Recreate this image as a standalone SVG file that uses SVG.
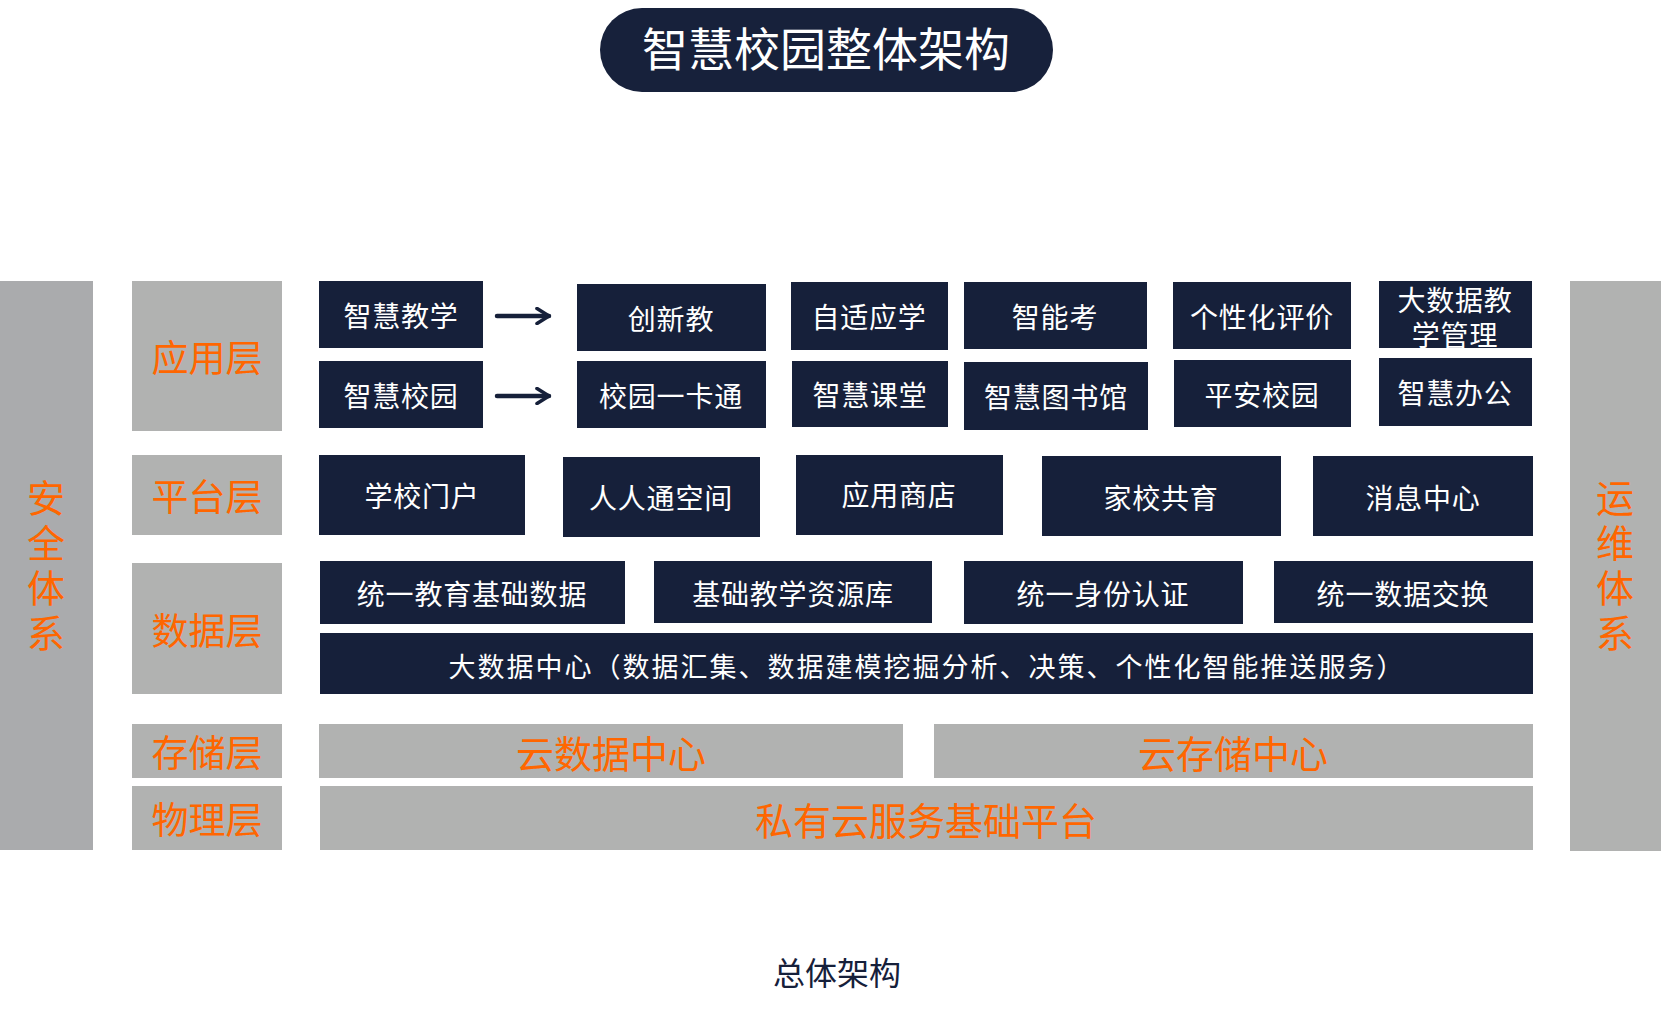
<svg xmlns="http://www.w3.org/2000/svg" width="1663" height="1017" viewBox="0 0 1663 1017">
<defs>
<style>
.nb{fill:#16203A}
.gb{fill:#B1B2B1}
.wt{fill:#FFFFFF;font-family:"Noto Sans CJK SC",sans-serif;font-size:28px;letter-spacing:0.8px;text-anchor:middle;dominant-baseline:central}
.ot{fill:#FF6600;font-family:"Noto Sans CJK SC",sans-serif;font-size:37px;text-anchor:middle;dominant-baseline:central}
.ob{fill:#FF6600;font-family:"Noto Sans CJK SC",sans-serif;font-size:38px;text-anchor:middle;dominant-baseline:central}
.vt{fill:#FF6600;font-family:"Noto Sans CJK SC",sans-serif;font-size:38px;text-anchor:middle;writing-mode:vertical-rl;letter-spacing:7px}
.cn{stroke:#16203A;stroke-width:4.5;fill:none;stroke-linecap:round}
</style>
<marker id="ah" viewBox="0 0 12 12" refX="10" refY="6" markerWidth="4" markerHeight="4" markerUnits="strokeWidth" orient="auto">
<path d="M2,1 L10,6 L2,11" fill="none" stroke="#16203A" stroke-width="2.4" stroke-linecap="round" stroke-linejoin="round"/>
</marker>
</defs>
<rect width="1663" height="1017" fill="#FFFFFF"/>

<g id="title">
<rect x="600" y="8" width="453" height="84" rx="42" fill="#17213B"/>
<text x="826" y="46" fill="#FFFFFF" font-family="'Noto Sans CJK SC',sans-serif" font-size="46" text-anchor="middle" dominant-baseline="central">智慧校园整体架构</text>
</g>

<g id="security">
<rect x="0" y="281" width="93" height="569" fill="#AAABAD"/>
<text class="vt" x="46" y="569">安全体系</text>
</g>
<g id="ops">
<rect x="1570" y="281" width="91" height="570" class="gb"/>
<text class="vt" x="1615" y="569">运维体系</text>
</g>

<g id="layer-app"><rect x="132" y="281" width="150" height="150" class="gb"/><text class="ot" x="207" y="356">应用层</text></g>
<g id="layer-platform"><rect x="132" y="455" width="150" height="80" class="gb"/><text class="ot" x="207" y="495">平台层</text></g>
<g id="layer-data"><rect x="132" y="563" width="150" height="131" class="gb"/><text class="ot" x="207" y="629">数据层</text></g>
<g id="layer-storage"><rect x="132" y="724" width="150" height="54" class="gb"/><text class="ot" x="207" y="751">存储层</text></g>
<g id="layer-physical"><rect x="132" y="786" width="150" height="64" class="gb"/><text class="ot" x="207" y="818">物理层</text></g>

<g id="n-zhjx"><rect x="319" y="281" width="164" height="67" class="nb"/><text class="wt" x="401" y="315">智慧教学</text></g>
<g id="n-zhxy"><rect x="319" y="361" width="164" height="67" class="nb"/><text class="wt" x="401" y="395">智慧校园</text></g>
<g id="n-cxj"><rect x="577" y="284" width="189" height="67" class="nb"/><text class="wt" x="671" y="318">创新教</text></g>
<g id="n-xyykt"><rect x="577" y="361" width="189" height="67" class="nb"/><text class="wt" x="671" y="395">校园一卡通</text></g>
<g id="n-zsyx"><rect x="791" y="282" width="157" height="68" class="nb"/><text class="wt" x="869" y="316">自适应学</text></g>
<g id="n-zhkt"><rect x="792" y="361" width="156" height="66" class="nb"/><text class="wt" x="870" y="394">智慧课堂</text></g>
<g id="n-znk"><rect x="964" y="282" width="183" height="67" class="nb"/><text class="wt" x="1055" y="316">智能考</text></g>
<g id="n-zhtsg"><rect x="964" y="362" width="184" height="68" class="nb"/><text class="wt" x="1056" y="396">智慧图书馆</text></g>
<g id="n-gxhpj"><rect x="1173" y="282" width="178" height="67" class="nb"/><text class="wt" x="1262" y="316">个性化评价</text></g>
<g id="n-paxy"><rect x="1174" y="360" width="177" height="67" class="nb"/><text class="wt" x="1262" y="394">平安校园</text></g>
<g id="n-dsjjxgl"><rect x="1379" y="281" width="153" height="67" class="nb"/><text class="wt" x="1455" y="299"><tspan x="1455" y="299">大数据教</tspan><tspan x="1455" y="334">学管理</tspan></text></g>
<g id="n-zhbg"><rect x="1379" y="358" width="153" height="68" class="nb"/><text class="wt" x="1455" y="392">智慧办公</text></g>

<g id="n-xxmh"><rect x="319" y="455" width="206" height="80" class="nb"/><text class="wt" x="422" y="495">学校门户</text></g>
<g id="n-rrtkj"><rect x="563" y="457" width="197" height="80" class="nb"/><text class="wt" x="661" y="497">人人通空间</text></g>
<g id="n-yysd"><rect x="796" y="455" width="207" height="80" class="nb"/><text class="wt" x="899" y="494">应用商店</text></g>
<g id="n-jxgy"><rect x="1042" y="456" width="239" height="80" class="nb"/><text class="wt" x="1161" y="497">家校共育</text></g>
<g id="n-xxzx"><rect x="1313" y="456" width="220" height="80" class="nb"/><text class="wt" x="1423" y="497">消息中心</text></g>

<g id="n-tyjyjcsj"><rect x="320" y="561" width="305" height="63" class="nb"/><text class="wt" x="472" y="593">统一教育基础数据</text></g>
<g id="n-jcjxzyk"><rect x="654" y="561" width="278" height="62" class="nb"/><text class="wt" x="793" y="593">基础教学资源库</text></g>
<g id="n-tysfrz"><rect x="964" y="561" width="279" height="63" class="nb"/><text class="wt" x="1103" y="593">统一身份认证</text></g>
<g id="n-tysjjh"><rect x="1274" y="561" width="259" height="62" class="nb"/><text class="wt" x="1403" y="593">统一数据交换</text></g>
<g id="n-dsjzx"><rect x="320" y="633" width="1213" height="61" class="nb"/><text class="wt" x="927" y="665" style="font-size:27px;letter-spacing:2px">大数据中心（数据汇集、数据建模挖掘分析、决策、个性化智能推送服务）</text></g>

<g id="n-ysjzx"><rect x="319" y="724" width="584" height="54" class="gb"/><text class="ob" x="611" y="751">云数据中心</text></g>
<g id="n-ycczx"><rect x="934" y="724" width="599" height="54" class="gb"/><text class="ob" x="1233" y="751">云存储中心</text></g>
<g id="n-syyfw"><rect x="320" y="786" width="1213" height="64" class="gb"/><text class="ob" x="926" y="818">私有云服务基础平台</text></g>

<g id="connectors">
<line class="cn" x1="497" y1="316" x2="549" y2="316" marker-end="url(#ah)"/>
<line class="cn" x1="497" y1="396" x2="549" y2="396" marker-end="url(#ah)"/>
</g>

<g id="caption">
<text x="837" y="971" fill="#16203A" font-family="'Noto Sans CJK SC',sans-serif" font-size="32" text-anchor="middle" dominant-baseline="central">总体架构</text>
</g>
</svg>
